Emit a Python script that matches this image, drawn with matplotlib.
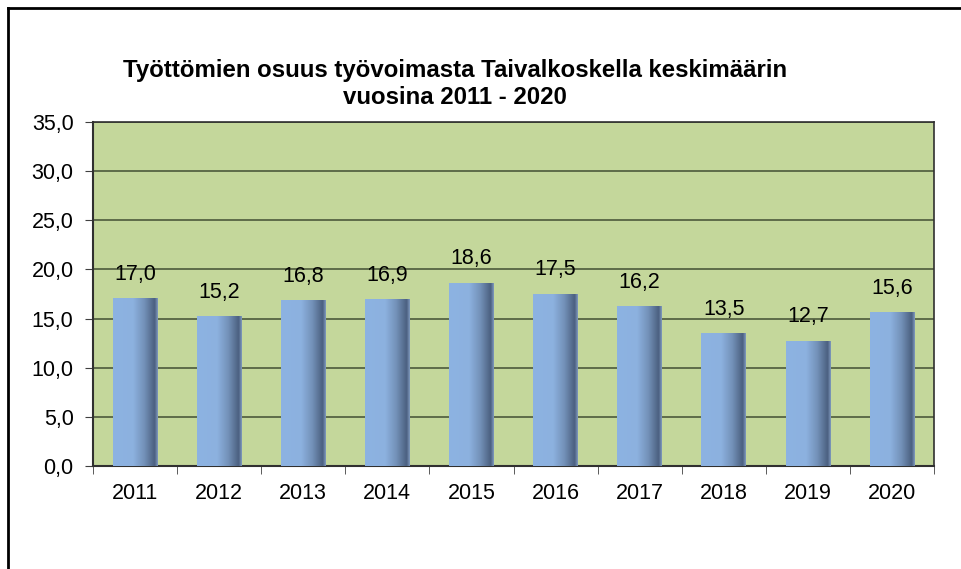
import matplotlib
matplotlib.use("Agg")
import matplotlib.pyplot as plt
import numpy as np
from matplotlib.colors import LinearSegmentedColormap
from matplotlib.lines import Line2D

years = ["2011", "2012", "2013", "2014", "2015", "2016", "2017", "2018", "2019", "2020"]
values = [17.0, 15.2, 16.8, 16.9, 18.6, 17.5, 16.2, 13.5, 12.7, 15.6]
yticks = [0, 5, 10, 15, 20, 25, 30, 35]
title = "Työttömien osuus työvoimasta Taivalkoskella keskimäärin\nvuosina 2011 - 2020"

plt.rcParams['font.family'] = ['Liberation Sans', 'DejaVu Sans']

fig = plt.figure(figsize=(9.61, 5.69), dpi=100)
fig.patch.set_facecolor('white')
ax = fig.add_axes([93/961, 1-466/569, (934-93)/961, (466-122)/569])
ax.set_facecolor('#c4d79b')

x = np.arange(len(years))
width = 0.53
bars = ax.bar(x, values, width=width, color='none', zorder=3)

cmap = LinearSegmentedColormap.from_list('barg', [
    (0.0, '#8db3e2'), (0.45, '#8cb1df'), (0.70, '#7391b8'),
    (0.93, '#4b6080'), (1.0, '#7f99bd')])
grad = np.linspace(0, 1, 200).reshape(1, -1)
for b in bars:
    x0 = b.get_x(); w = b.get_width(); h = b.get_height()
    ax.imshow(grad, cmap=cmap, aspect='auto', extent=(x0, x0 + w, 0, h),
              zorder=3, interpolation='bilinear')
    ax.text(x0 + w / 2, h + 1.4, f"{h:.1f}".replace('.', ','), ha='center',
            va='bottom', fontsize=15.5, color='black', zorder=4)

ax.set_xlim(-0.5, len(years) - 0.5)
ax.set_ylim(0, 35)
ax.set_yticks(yticks)
ax.set_yticklabels([f"{v:.1f}".replace('.', ',') for v in yticks], fontsize=15.5)
ax.set_xticks(x)
ax.set_xticklabels(years, fontsize=15.5)
ax.set_xticks(np.arange(-0.5, len(years)), minor=True)
ax.tick_params(axis='x', which='major', length=0, pad=12)
ax.tick_params(axis='x', which='minor', length=6, direction='out', color='#404040')
ax.tick_params(axis='y', length=6, direction='out', color='#404040', pad=8)
ax.yaxis.grid(True, color='#4d5a3c', linewidth=1.2, zorder=1)
ax.set_axisbelow(True)
for s in ['left', 'bottom']:
    ax.spines[s].set_color('#303030')
    ax.spines[s].set_linewidth(1.5)
for s in ['top', 'right']:
    ax.spines[s].set_color('#303030')
    ax.spines[s].set_linewidth(1.2)

fig.text(455/961, 1-84/569, title, ha='center', va='center', fontsize=17.3,
         fontweight='bold', linespacing=1.2)

# figure border (left and top)
fig.add_artist(Line2D([8/961, 8/961], [0, 1-8/569], transform=fig.transFigure,
                      color='black', linewidth=2))
fig.add_artist(Line2D([8/961, 1], [1-8/569, 1-8/569], transform=fig.transFigure,
                      color='black', linewidth=2))

fig.savefig('out.png', dpi=100)
